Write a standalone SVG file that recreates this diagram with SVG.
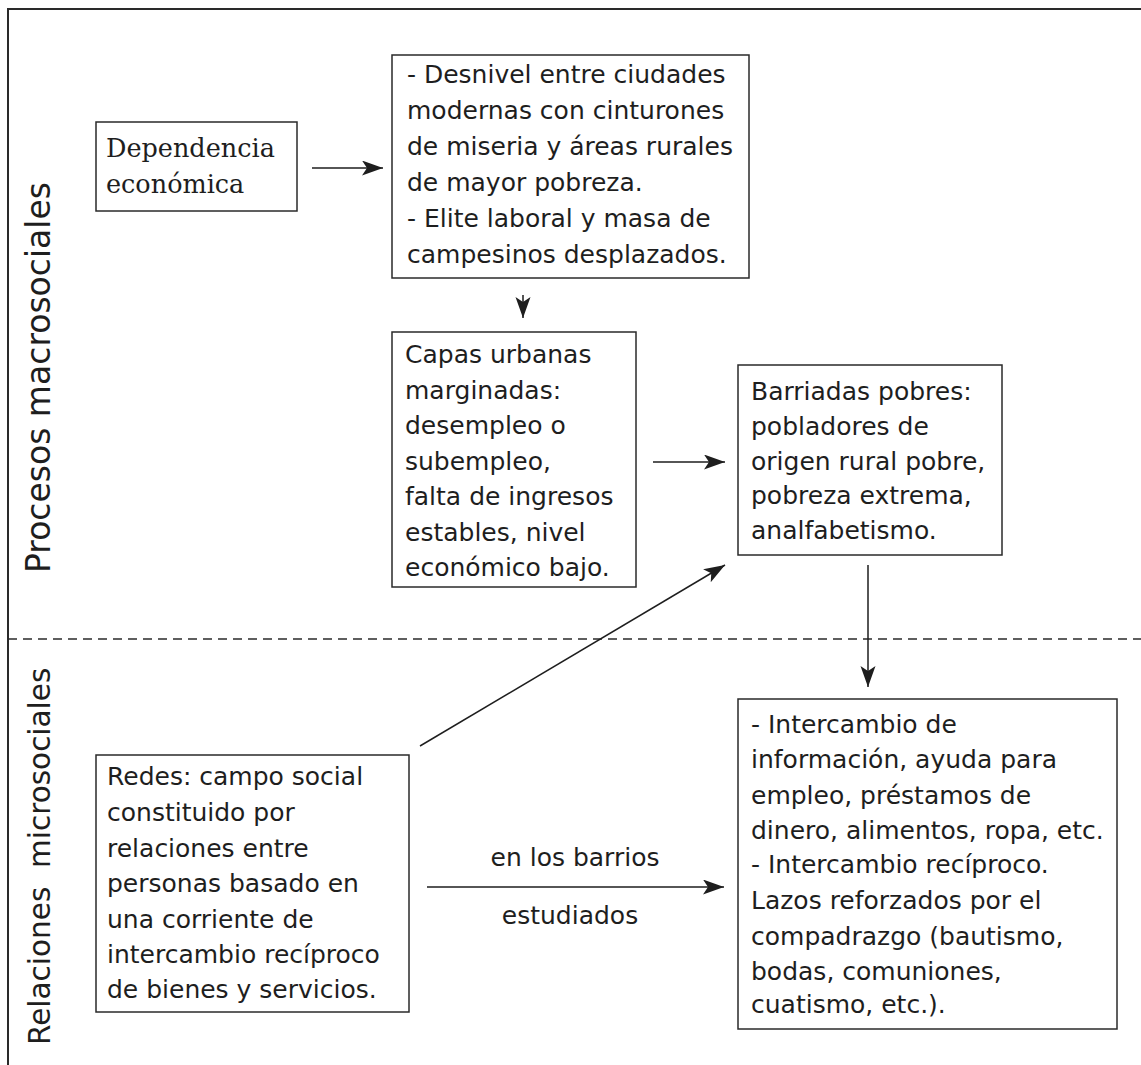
<svg xmlns="http://www.w3.org/2000/svg" width="1141" height="1065" viewBox="0 0 1141 1065">
<style>
.box{fill:#fff;stroke:#2a2a2a;stroke-width:1.5}
.t{font-family:"DejaVu Sans",sans-serif;font-size:25px;fill:#1e1e1e}
.ts{font-family:"DejaVu Serif",serif;font-size:25.5px;fill:#1e1e1e}
.v{font-family:"DejaVu Sans",sans-serif;font-size:33px;fill:#1e1e1e}
.c{fill:none;stroke:#1e1e1e;stroke-width:1.5}
.frame{fill:none;stroke:#2a2a2a;stroke-width:2}
</style>
<defs>
<marker id="ah" markerUnits="userSpaceOnUse" markerWidth="22" markerHeight="16" refX="21" refY="7.5" orient="auto">
<path d="M0,0 L21,7.5 L0,15 L5,7.5 Z" fill="#1e1e1e"/>
</marker>
</defs>
<rect width="1141" height="1065" fill="#fff"/>
<g id="frame">
<path class="frame" d="M8,1065 L8,9 L1141,9"/>
<line x1="8" y1="639" x2="1141" y2="639" stroke="#2a2a2a" stroke-width="1.5" stroke-dasharray="9 6"/>
</g>
<g id="labels">
<text class="v" transform="translate(50,573) rotate(-90)">Procesos macrosociales</text>
<text class="v" style="font-size:29.5px" transform="translate(50,1045) rotate(-90)" xml:space="preserve">Relaciones  microsociales</text>
</g>
<g id="connectors">
<line class="c" x1="312" y1="168" x2="383" y2="168" marker-end="url(#ah)"/>
<line class="c" x1="523" y1="295" x2="523" y2="318" marker-end="url(#ah)"/>
<line class="c" x1="653" y1="462" x2="725" y2="462" marker-end="url(#ah)"/>
<line class="c" x1="420" y1="746" x2="725" y2="565" marker-end="url(#ah)"/>
<line class="c" x1="868" y1="565" x2="868" y2="687" marker-end="url(#ah)"/>
<line class="c" x1="427" y1="887" x2="724" y2="887" marker-end="url(#ah)"/>
<text class="t" x="575" y="866" text-anchor="middle">en los barrios</text>
<text class="t" x="570" y="924" text-anchor="middle">estudiados</text>
</g>
<g id="n1">
<rect class="box" x="96" y="122" width="201" height="89"/>
<text class="ts" x="106" y="157">Dependencia</text>
<text class="ts" x="106" y="193">económica</text>
</g>
<g id="n2">
<rect class="box" x="392" y="55" width="357" height="223"/>
<text class="t" x="407" y="83">- Desnivel entre ciudades</text>
<text class="t" x="407" y="119">modernas con cinturones</text>
<text class="t" x="407" y="155">de miseria y áreas rurales</text>
<text class="t" x="407" y="191">de mayor pobreza.</text>
<text class="t" x="407" y="227">- Elite laboral y masa de</text>
<text class="t" x="407" y="263">campesinos desplazados.</text>
</g>
<g id="n3">
<rect class="box" x="392" y="332" width="244" height="255"/>
<text class="t" x="405" y="363">Capas urbanas</text>
<text class="t" x="405" y="399">marginadas:</text>
<text class="t" x="405" y="434">desempleo o</text>
<text class="t" x="405" y="470">subempleo,</text>
<text class="t" x="405" y="505">falta de ingresos</text>
<text class="t" x="405" y="541">estables, nivel</text>
<text class="t" x="405" y="576">económico bajo.</text>
</g>
<g id="n4">
<rect class="box" x="738" y="365" width="264" height="190"/>
<text class="t" x="751" y="400">Barriadas pobres:</text>
<text class="t" x="751" y="435">pobladores de</text>
<text class="t" x="751" y="470">origen rural pobre,</text>
<text class="t" x="751" y="504">pobreza extrema,</text>
<text class="t" x="751" y="539">analfabetismo.</text>
</g>
<g id="n5">
<rect class="box" x="96" y="755" width="313" height="257"/>
<text class="t" x="107" y="785">Redes: campo social</text>
<text class="t" x="107" y="821">constituido por</text>
<text class="t" x="107" y="857">relaciones entre</text>
<text class="t" x="107" y="892">personas basado en</text>
<text class="t" x="107" y="928">una corriente de</text>
<text class="t" x="107" y="963">intercambio recíproco</text>
<text class="t" x="107" y="998">de bienes y servicios.</text>
</g>
<g id="n6">
<rect class="box" x="738" y="699" width="379" height="330"/>
<text class="t" x="751" y="733">- Intercambio de</text>
<text class="t" x="751" y="768">información, ayuda para</text>
<text class="t" x="751" y="804">empleo, préstamos de</text>
<text class="t" x="751" y="839">dinero, alimentos, ropa, etc.</text>
<text class="t" x="751" y="873">- Intercambio recíproco.</text>
<text class="t" x="751" y="909">Lazos reforzados por el</text>
<text class="t" x="751" y="945">compadrazgo (bautismo,</text>
<text class="t" x="751" y="980">bodas, comuniones,</text>
<text class="t" x="751" y="1013">cuatismo, etc.).</text>
</g>
</svg>
